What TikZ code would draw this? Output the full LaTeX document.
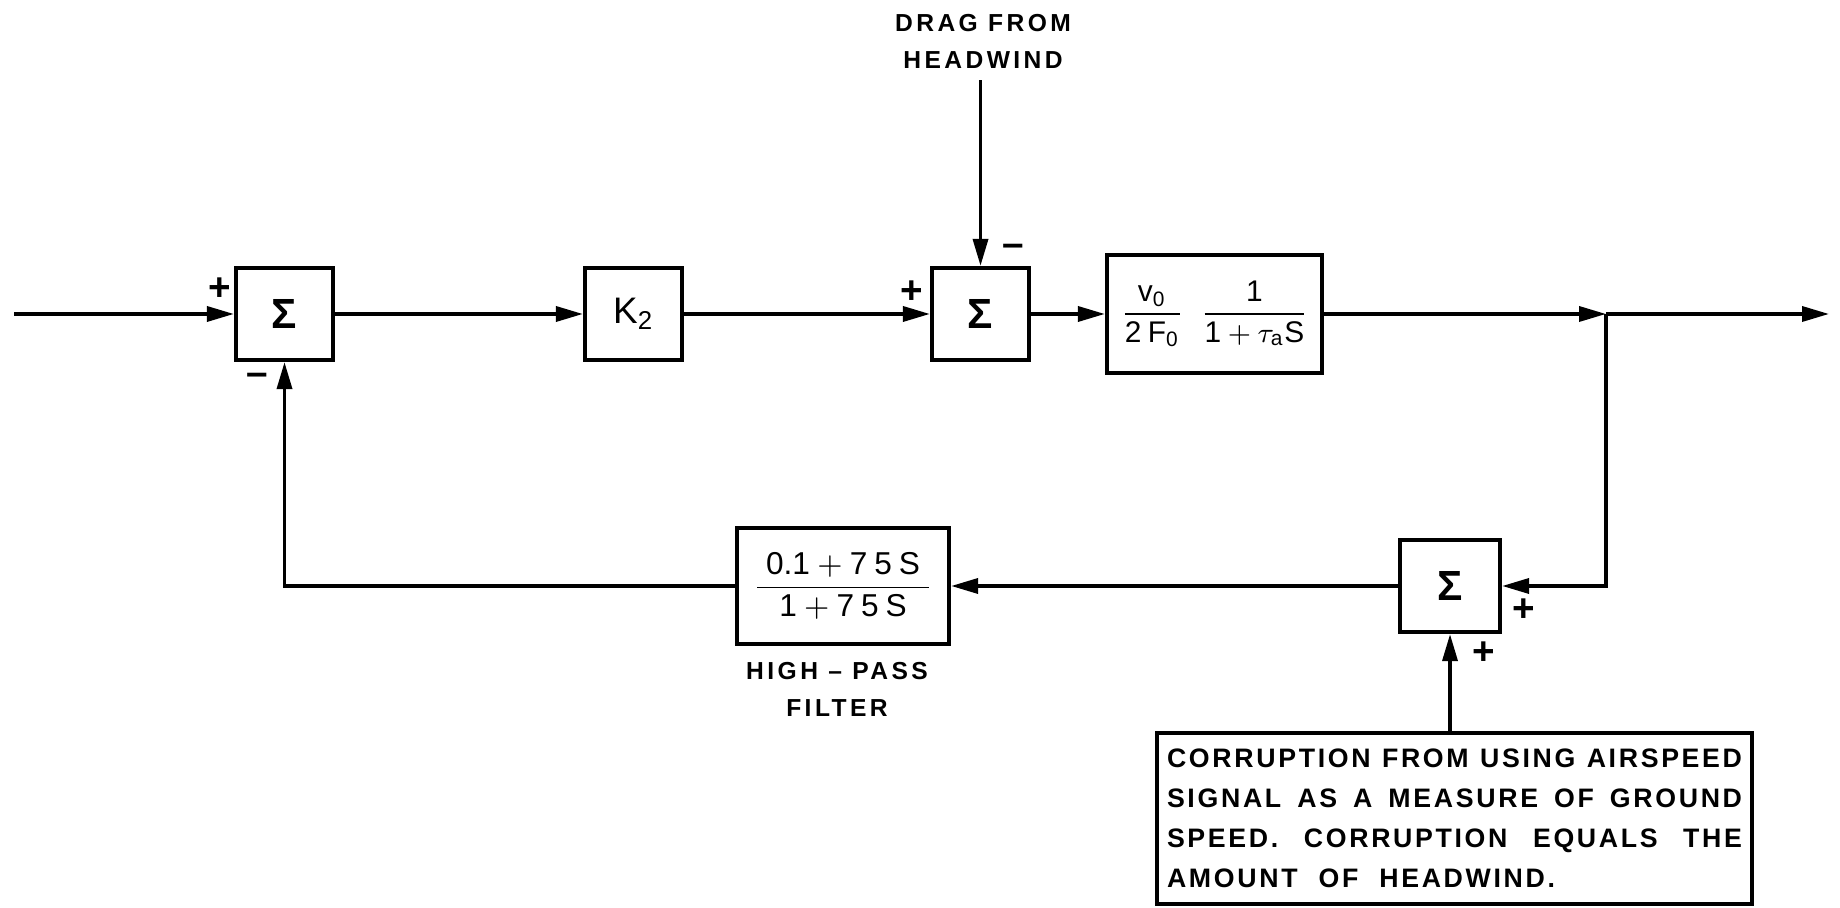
\documentclass[tikz,border=0pt]{standalone}
\usepackage{amsmath}
\usepackage{fontspec}
\setmainfont{Liberation Sans}
\newfontfamily\leroy[LetterSpace=10]{Liberation Sans}
\newfontfamily\leroywide[LetterSpace=14]{Liberation Sans}
\newfontfamily\leroyfrac[LetterSpace=22]{Liberation Sans}
\usetikzlibrary{arrows.meta}

\newcommand{\corrline}[2][5.75cm]{\makebox[#1][s]{#2}}

\begin{document}
\begin{tikzpicture}[line width=1pt, every node/.style={inner sep=0pt},
    blk/.style={draw, line width=1.2pt, minimum width=0.97cm, minimum height=0.92cm, font=\fontsize{10.5}{12}\selectfont},
    sumblk/.style={blk, font=\bfseries\fontsize{12}{12}\selectfont},
    sgn/.style={font=\bfseries\fontsize{11}{11}\selectfont},
    lbl/.style={font=\leroywide\bfseries\fontsize{7}{10.5}\selectfont, align=center},
    sig/.style={-{Triangle[length=2.7mm,width=1.5mm]}}]
  \useasboundingbox (0,0) rectangle (18.4,9.07);

  % forward path
  \coordinate (in) at (0.14, 5.93);
  \node[sumblk] (sum1) at (2.845, 5.93) {Σ};
  \node[blk] (k2) at (6.335, 5.93) {$\text{K}_{\text{2}}$};
  \node[sumblk] (sum2) at (9.805, 5.93) {Σ};
  \node[blk, minimum width=2.15cm, minimum height=1.18cm, font=\leroyfrac\fontsize{8.5}{10}\selectfont] (plant) at (12.145, 5.93)
    {$\dfrac{\text{v}_{\text{0}}}{\text{2F}_{\text{0}}}\;\;\dfrac{\text{1}}{\text{1}+\tau_{\text{a}}\text{S}}$};
  \coordinate (junc) at (16.06, 5.93);
  \coordinate (out) at (18.29, 5.93);

  \node[lbl] (drag) at (9.83, 8.655) {DRAG FROM\\HEADWIND};

  % feedback path
  \node[sumblk, minimum width=1.0cm] (sum3) at (14.50, 3.21) {Σ};
  \node[blk, minimum width=2.12cm, minimum height=1.16cm, font=\leroyfrac\fontsize{9}{10}\selectfont] (filter) at (8.43, 3.21)
    {$\dfrac{\makebox[1.72cm]{$\text{\rmfamily 0.1}+\text{75S}$}}{\text{1}+\text{75S}}$};
  \node[lbl] (hp) at (8.37, 2.18) {HIGH – PASS\\FILTER};

  \node[draw, line width=1.2pt, minimum width=5.95cm, minimum height=1.71cm, align=left,
    font=\leroy\bfseries\fontsize{7.6}{11.4}\selectfont] (corr) at (14.545, 0.885)
    {\corrline{CORRUPTION FROM USING AIRSPEED}\\
     \corrline{SIGNAL AS A MEASURE OF GROUND}\\
     \corrline{SPEED. CORRUPTION EQUALS THE}\\
     \corrline[3.88cm]{AMOUNT OF HEADWIND.}};

  % signs
  \node[sgn] (s1p) at (2.20, 6.18) {+};
  \node[sgn] (s1m) at (2.57, 5.28) {--};
  \node[sgn] (s2p) at (9.12, 6.15) {+};
  \node[sgn] (s2m) at (10.13, 6.57) {--};
  \node[sgn] (s3r) at (15.24, 2.97) {+};
  \node[sgn] (s3b) at (14.84, 2.54) {+};

  \draw[sig] (in) -- (sum1);
  \draw[sig] (sum1) -- (k2);
  \draw[sig] (k2) -- (sum2);
  \draw[sig] ([yshift=-0.1cm]drag.south -| sum2.north) -- (sum2.north);
  \draw[sig] (sum2) -- (plant);
  \draw[sig] (plant) -- (junc);
  \draw[sig] (junc) -- (out);
  \draw[sig] (junc) |- (sum3);
  \draw[sig] (corr.north -| sum3.south) -- (sum3.south);
  \draw[sig] (sum3) -- (filter);
  \draw[sig] (filter) -| (sum1);
\end{tikzpicture}
\end{document}
